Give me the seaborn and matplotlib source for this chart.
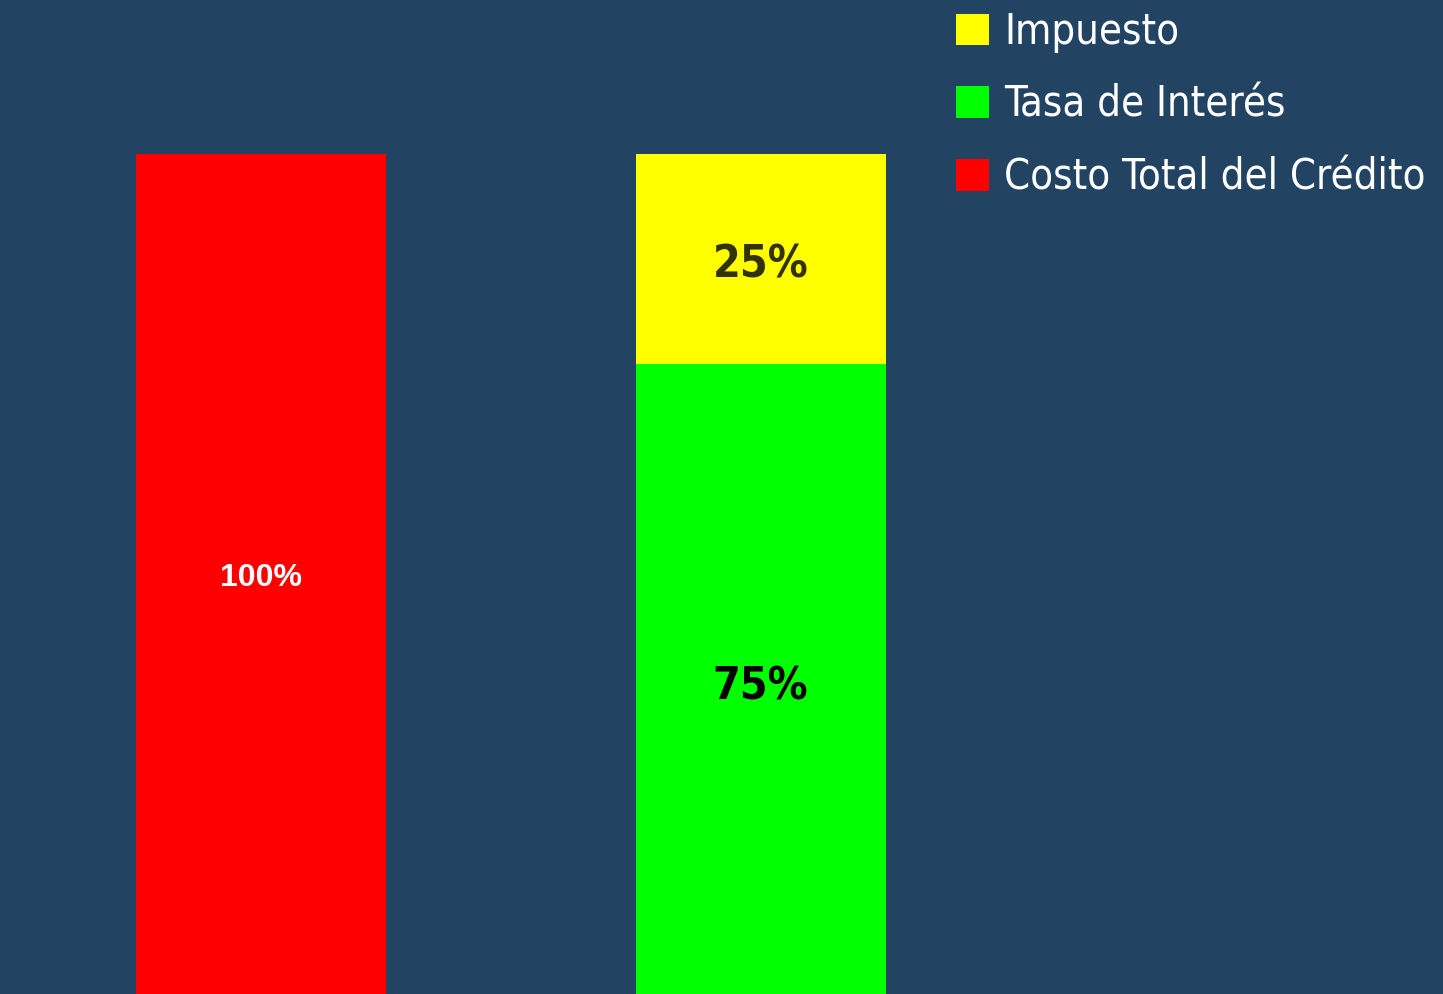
import numpy as np
import pandas as pd
import matplotlib
matplotlib.use('Agg')
from matplotlib import pyplot as plt
from matplotlib.patches import Patch
import seaborn as sns

############ --------------- DATA --------------- ###########
bar_names = ['Costo Total del Crédito', 'Desglose']
costo_total = [100]
tasa_interes = [75]
impuesto = [25]
legend_labels = ['Impuesto', 'Tasa de Interés', 'Costo Total del Crédito']

# colours
bg = '#224462'
myred = '#ff0000'
mygreen = '#00ff00'
myyellow = '#ffff00'

############ --------------- PLOT IT! --------------- ###########
sns.set_style('white')
plt.rcParams['font.family'] = ['DejaVu Sans']
plt.rcParams['font.stretch'] = 'condensed'

fig = plt.figure(figsize=(14.43, 9.94), dpi=100, facecolor=bg)
ax = fig.add_axes([0, 0, 1, 1])
ax.set_facecolor(bg)

# red bar
sns.barplot(x=[bar_names[0]], y=costo_total, order=bar_names, color=myred,
            width=0.5, errorbar=None, saturation=1, linewidth=0, ax=ax)
# stacked bar: yellow total, green drawn over it
stack_total = [tasa_interes[0] + impuesto[0]]
sns.barplot(x=[bar_names[1]], y=stack_total, order=bar_names, color=myyellow,
            width=0.5, errorbar=None, saturation=1, linewidth=0, ax=ax)
sns.barplot(x=[bar_names[1]], y=tasa_interes, order=bar_names, color=mygreen,
            width=0.5, errorbar=None, saturation=1, linewidth=0, ax=ax)

ax.set_xlim(-0.521, 2.365)
ax.set_ylim(0, 118.33)
ax.set_xticks([])
ax.set_yticks([])
ax.set_xlabel('')
ax.set_ylabel('')
for s in ax.spines.values():
    s.set_visible(False)

# value labels
ax.annotate(f'{costo_total[0]}%', (0, costo_total[0] / 2), xytext=(0, -4),
            textcoords='offset pixels', ha='center', va='center',
            color='white', fontsize=23, fontweight='bold',
            family=['Liberation Sans', 'DejaVu Sans'], fontstretch='normal')
ax.annotate(f'{tasa_interes[0]}%', (1, tasa_interes[0] / 2), xytext=(0, -8),
            textcoords='offset pixels', ha='center', va='center',
            color='black', fontsize=32, fontweight='bold')
ax.annotate(f'{impuesto[0]}%', (1, tasa_interes[0] + impuesto[0] / 2), xytext=(0, -6),
            textcoords='offset pixels', ha='center', va='center',
            color='#333300', fontsize=32, fontweight='bold')

# legend
handles = [Patch(facecolor=c, edgecolor='none') for c in [myyellow, mygreen, myred]]
leg = fig.legend(handles, legend_labels, loc='upper left', bbox_to_anchor=(0.6625, 0.989),
                 frameon=False, fontsize=30, handlelength=0.79, handleheight=0.79,
                 handletextpad=0.36, labelspacing=0.74, labelcolor='white',
                 borderaxespad=0, borderpad=0.0)

fig.savefig('out.png', dpi=100, facecolor=bg)
